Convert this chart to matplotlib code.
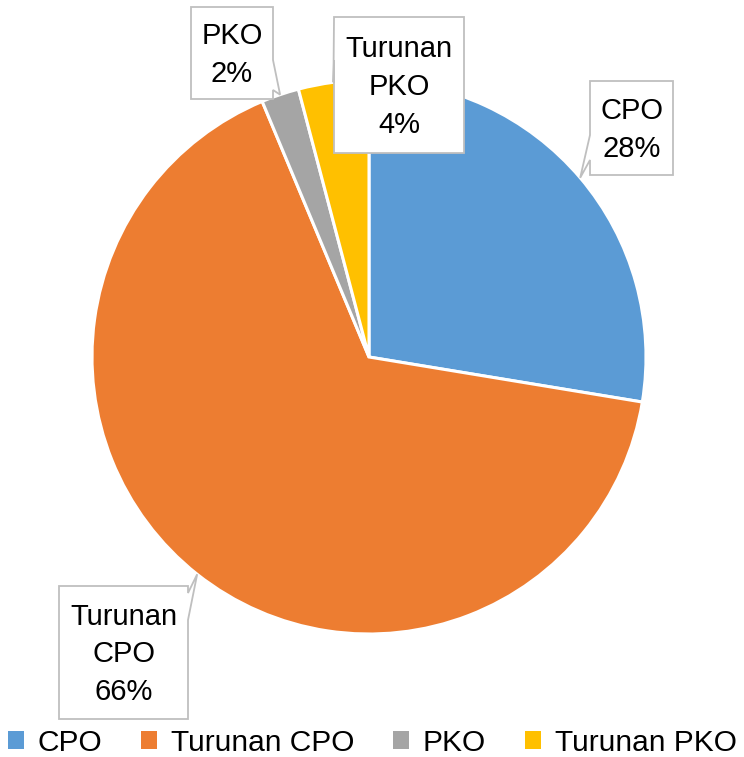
import numpy as np
import matplotlib.pyplot as plt
from matplotlib.patches import Polygon, Patch

# data
labels = ['CPO', 'Turunan CPO', 'PKO', 'Turunan PKO']
shares = [27.6, 66.1, 2.2, 4.1]
colors = ['#5B9BD5', '#ED7D31', '#A5A5A5', '#FFC000']

plt.rcParams['font.family'] = ['Liberation Sans Narrow', 'Liberation Sans', 'DejaVu Sans']

fig = plt.figure(figsize=(7.44, 7.57), dpi=100)
ax = fig.add_axes([0, 0, 1, 1])

# pie centred at (369, 357) px, radius 277 px
R = 277.0
cx, cy = 369.0, 357.0


def px(x, y):
    return ((x - cx) / R, (cy - y) / R)


wedges, _ = ax.pie(shares, colors=colors, startangle=90, counterclock=False,
                   radius=1.0, wedgeprops=dict(edgecolor='white', linewidth=2.2))
ax.set_xlim(px(0, 0)[0], px(744, 0)[0])
ax.set_ylim(px(0, 757)[1], px(0, 0)[1])
ax.set_aspect('equal')
ax.axis('off')

# callout boxes: (x0, y0, x1, y1) px, side of pointer, base span along that side
boxes = [
    ((590, 81, 673, 175), 'left', (135, 160)),
    ((59, 586, 188, 719), 'right', (593, 620)),
    ((191, 7, 273, 99), 'right', (60, 90)),
    ((334, 17, 464, 153), 'left', (20, 60)),
]
texts = ['CPO\n{:.0f}%', 'Turunan\nCPO\n{:.0f}%', 'PKO\n{:.0f}%', 'Turunan\nPKO\n{:.0f}%']

for w, (box, side, base), t, s in zip(wedges, boxes, texts, shares):
    x0, y0, x1, y1 = box
    ang = np.deg2rad((w.theta1 + w.theta2) / 2)
    tip = (np.cos(ang), np.sin(ang))
    b0, b1 = base
    if side == 'left':
        verts = [px(x0, y0), px(x1, y0), px(x1, y1), px(x0, y1),
                 px(x0, b1), tip, px(x0, b0)]
    else:
        verts = [px(x0, y0), px(x1, y0), px(x1, b0), tip, px(x1, b1),
                 px(x1, y1), px(x0, y1)]
    ax.add_patch(Polygon(verts, closed=True, facecolor='white',
                         edgecolor='#BFBFBF', linewidth=1.3, zorder=5))
    tx, ty = px((x0 + x1) / 2, (y0 + y1) / 2 + 2)
    ax.text(tx, ty, t.format(s), ha='center', va='center', fontsize=21,
            linespacing=1.45, zorder=6)

handles = [Patch(facecolor=c, edgecolor='none') for c in colors]
fig.legend(handles, labels, loc='lower center', bbox_to_anchor=(0.5, -0.027),
           ncol=4, frameon=False, fontsize=21.5, handlelength=0.55,
           handleheight=0.55, handletextpad=0.45, columnspacing=1.3,
           borderpad=0.2)

fig.savefig('out.png', dpi=100)
